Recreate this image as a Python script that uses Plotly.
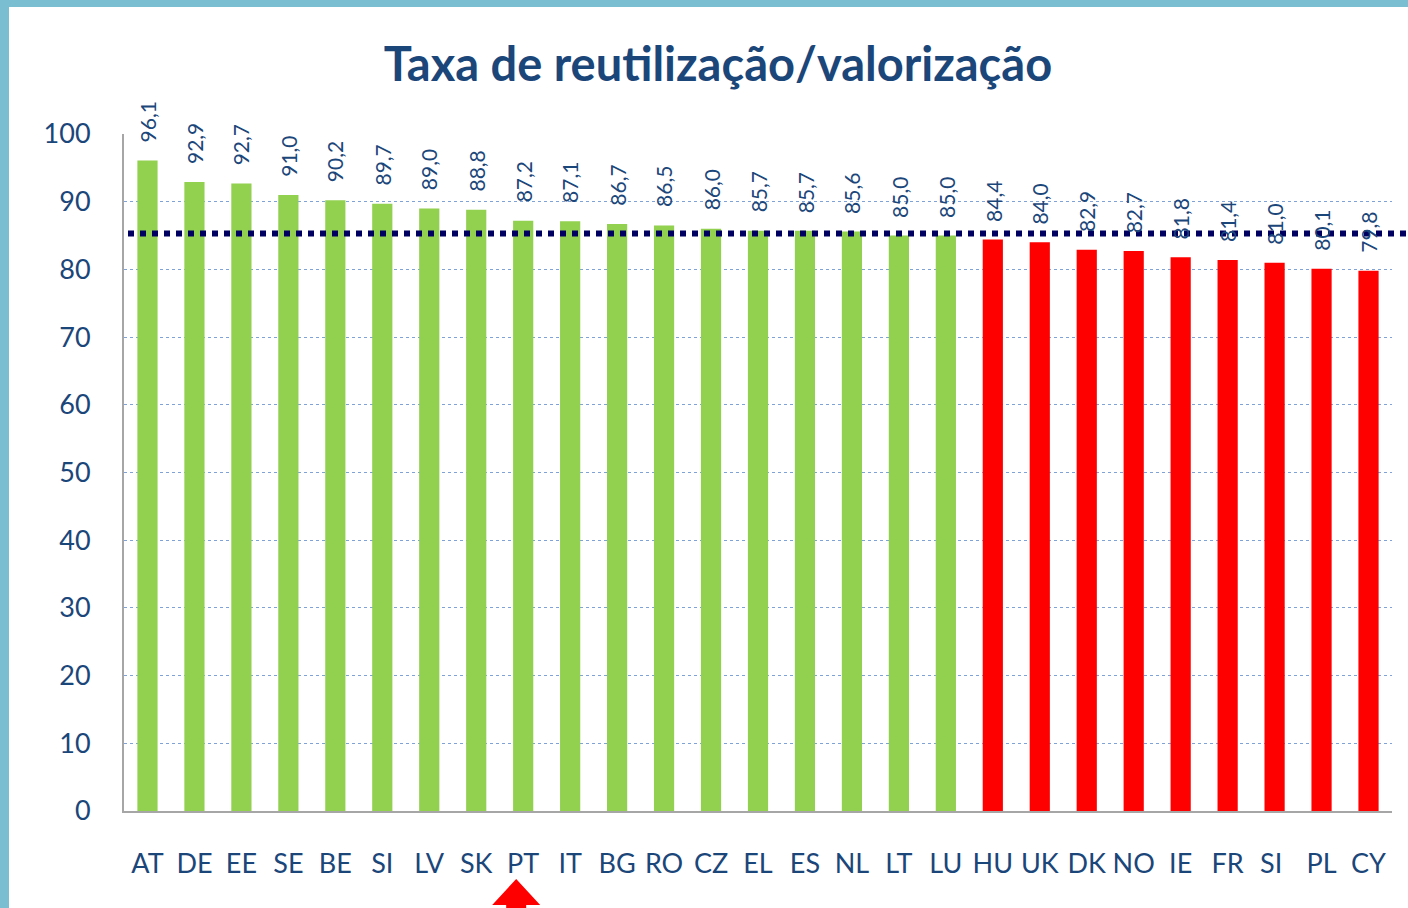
import plotly.graph_objects as go

countries = ["AT", "DE", "EE", "SE", "BE", "SI", "LV", "SK", "PT", "IT", "BG", "RO", "CZ",
             "EL", "ES", "NL", "LT", "LU", "HU", "UK", "DK", "NO", "IE", "FR", "SI ", "PL", "CY"]
values = [96.1, 92.9, 92.7, 91.0, 90.2, 89.7, 89.0, 88.8, 87.2, 87.1, 86.7, 86.5, 86.0,
          85.7, 85.7, 85.6, 85.0, 85.0, 84.4, 84.0, 82.9, 82.7, 81.8, 81.4, 81.0, 80.1, 79.8]
threshold = 85.3
y_ticks = [0, 10, 20, 30, 40, 50, 60, 70, 80, 90, 100]
title_text = "Taxa de reutilização/valorização"
highlight = "PT"

GREEN = "#92D050"
RED = "#FF0000"
NAVY = "#1B467A"

colors = [GREEN if v >= 85 else RED for v in values]
labels = [f"{v:.1f}".replace(".", ",") for v in values]

fig = go.Figure()
fig.add_trace(go.Bar(
    x=countries, y=values,
    marker=dict(color=colors, line=dict(width=0)),
    cliponaxis=False,
    hoverinfo="skip",
))

W, H = 1408, 908
L, R, T, B = 124, 16, 134, 97
pw = W - L - R
ph = H - T - B

def px_x(p):
    return (p - L) / pw

def px_y(p):
    return (H - B - p) / ph

annotations = [
    dict(x=c, y=v, xref="x", yref="y", text=t, textangle=-90, showarrow=False,
         xanchor="center", yanchor="bottom", yshift=16,
         font=dict(family="Lato", size=21, color=NAVY))
    for c, v, t in zip(countries, values, labels)
]

n = len(countries)
hi = countries.index(highlight)
cx = (hi + 0.5) / n - 7 / pw
hw = 24 / pw
sw = 10 / pw
tip = px_y(879)
base = px_y(905)
bottom = px_y(930)
arrow_path = (f"M {cx} {tip} L {cx + hw} {base} L {cx + sw} {base} L {cx + sw} {bottom} "
              f"L {cx - sw} {bottom} L {cx - sw} {base} L {cx - hw} {base} Z")

shapes = [
    # teal frame strips
    dict(type="rect", xref="paper", yref="paper", x0=px_x(0), x1=px_x(W), y0=px_y(7), y1=px_y(0),
         fillcolor="#79BFD1", line=dict(width=0), layer="below"),
    dict(type="rect", xref="paper", yref="paper", x0=px_x(0), x1=px_x(9), y0=px_y(H), y1=px_y(0),
         fillcolor="#79BFD1", line=dict(width=0), layer="below"),
    # threshold dotted line
    dict(type="line", xref="paper", yref="y", x0=px_x(128), x1=px_x(W), y0=threshold, y1=threshold,
         line=dict(color="#000060", width=6, dash="dot"), layer="above"),
    # red arrow under highlighted country
    dict(type="path", xref="paper", yref="paper", path=arrow_path,
         fillcolor=RED, line=dict(width=0)),
]

fig.update_layout(
    width=W, height=H,
    margin=dict(l=L, r=R, t=T, b=B, pad=0),
    paper_bgcolor="white", plot_bgcolor="white",
    showlegend=False,
    bargap=0.57,
    title=dict(text=title_text, x=(383 + 1053) / 2 / W, xanchor="center", y=1 - 65 / H, yanchor="middle",
               font=dict(family="Lato", size=47, color=NAVY, weight="bold")),
    xaxis=dict(showgrid=False, showline=True, linecolor="#A6A6A6", linewidth=2,
               ticks="", ticklabelstandoff=28,
               tickfont=dict(family="Lato", size=27, color=NAVY)),
    yaxis=dict(range=[0, 100], tickvals=y_ticks, showgrid=True,
               gridcolor="#7FA3D6", griddash="dot", gridwidth=1,
               showline=True, linecolor="#A6A6A6", linewidth=2, zeroline=False,
               ticks="", ticklabelstandoff=26,
               tickfont=dict(family="Lato", size=27, color=NAVY)),
    shapes=shapes,
    annotations=annotations,
)

fig.write_html("out.html", config={"displayModeBar": False},
               post_script="document.body.style.margin='0';document.body.style.overflow='hidden';")
